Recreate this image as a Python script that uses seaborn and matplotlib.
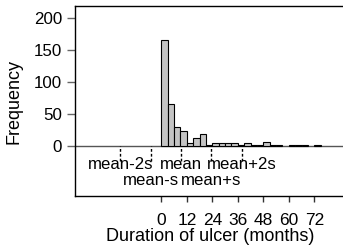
import matplotlib
matplotlib.use("Agg")
import matplotlib.pyplot as plt
import seaborn as sns

# ulcer duration histogram, 3-month bins
bin_starts = [0, 3, 6, 9, 12, 15, 18, 21, 24, 27, 30, 33, 36,
              39, 42, 45, 48, 51, 54, 57, 60, 63, 66, 69, 72]
counts = [165, 66, 29, 24, 5, 13, 18, 2, 4, 4, 5, 5, 1,
          4, 2, 2, 6, 1, 1, 0, 2, 2, 1, 0, 1]
bin_width = 3

# mean and sd markers
mean_dur = 9.3
sd_dur = 14.3
mark_k = [-2, -1, 0, 1, 2]
mark_labels = ["mean-2s", "mean-s", "mean", "mean+s", "mean+2s"]
mark_row = [0, 1, 0, 1, 0]

x_ticks = [0, 12, 24, 36, 48, 60, 72]
y_ticks = [0, 50, 100, 150, 200]

sns.set_theme(style="ticks")
plt.rcParams["font.family"] = ["Liberation Sans", "DejaVu Sans"]
plt.rcParams["text.color"] = "black"
plt.rcParams["axes.labelcolor"] = "black"

fig = plt.figure(figsize=(3.43, 2.49), dpi=100)
ax = fig.add_axes([75 / 343, 53 / 249, 270 / 343, 190 / 249])

ax.axhline(0, color="#555555", lw=1, zorder=0.5)

edges = bin_starts + [bin_starts[-1] + bin_width]
sns.histplot(x=bin_starts, weights=counts, bins=edges, color="#c4c4c4",
             edgecolor="black", linewidth=0.8, alpha=1, ax=ax)
# empty bins are not drawn
for patch, c in zip(ax.patches, counts):
    if c == 0:
        patch.set_visible(False)

row_y = [-36, -61]
for k, lab, row in zip(mark_k, mark_labels, mark_row):
    xm = mean_dur + k * sd_dur
    ax.vlines(xm, -23, 0, colors="black", linestyles=(0, (2, 1.5)), lw=1)
    ax.text(xm, row_y[row], lab, ha="center", va="baseline", fontsize=12.1,
            color="black")

ax.set_xlim(-40.6, 86.4)
ax.set_ylim(-78, 218.4)
ax.set_xticks(x_ticks)
ax.set_yticks(y_ticks)
ax.tick_params(axis="y", length=5.8, width=1, color="#666666", pad=3.4,
               labelsize=12.2, labelcolor="black")
ax.tick_params(axis="x", length=4.1, width=1, color="#333333", pad=8,
               labelsize=12.5, labelcolor="black")
for s in ax.spines.values():
    s.set_linewidth(1)
    s.set_color("black")

ax.set_xlabel("Duration of ulcer (months)", fontsize=13, labelpad=0)
ax.set_ylabel("Frequency", fontsize=13, labelpad=8)

fig.savefig("out.png", dpi=100)
